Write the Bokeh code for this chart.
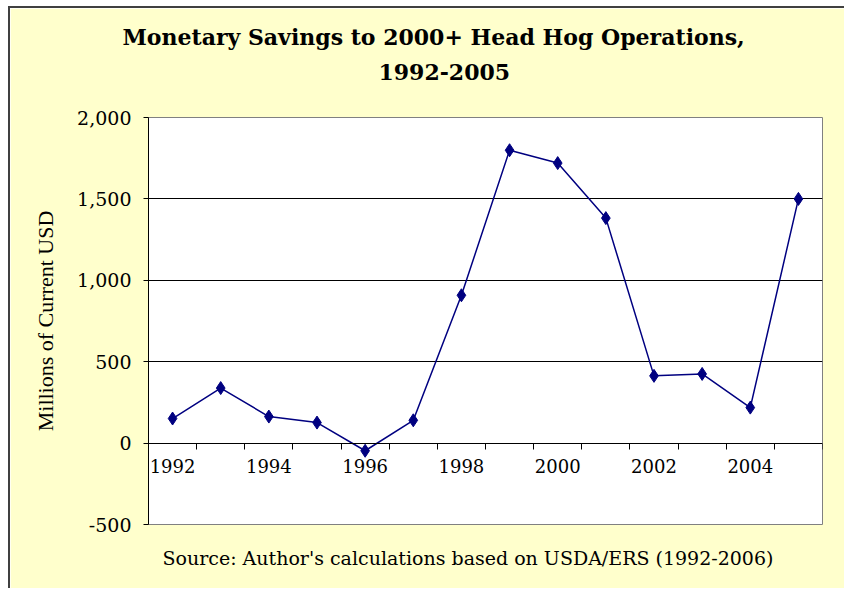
import math
from bokeh.plotting import figure
from bokeh.models import (Range1d, LinearAxis, FixedTicker, NumeralTickFormatter, Title)
from bokeh.embed import file_html
from bokeh.resources import INLINE

# ---- data ----
years = [1992, 1993, 1994, 1995, 1996, 1997, 1998, 1999, 2000, 2001, 2002, 2003, 2004, 2005]
savings = [151, 338, 163, 126, -47, 140, 908, 1799, 1720, 1382, 413, 425, 218, 1500]
year_tick_labels = [1992, 1994, 1996, 1998, 2000, 2002, 2004]
y_ticks = [-500, 0, 500, 1000, 1500, 2000]
grid_values = [500, 1000, 1500]
title_line1 = "Monetary Savings to 2000+ Head Hog Operations,"
title_line2 = "1992-2005"
y_title = "Millions of Current USD"
source_text = "Source: Author's calculations based on USDA/ERS (1992-2006)"

BG = "#FFFFCC"
NAVY = "#000080"
SERIF = "DejaVu Serif"

W, H = 836, 582
FL, FR, FT, FB = 138, 24, 109, 66  # borders around the frame

p = figure(width=W, height=H, output_backend="svg", toolbar_location=None,
           x_range=Range1d(years[0] - 0.5, years[-1] + 0.5),
           y_range=Range1d(min(y_ticks), max(y_ticks)),
           x_axis_location=None, y_axis_location=None,
           min_border_left=FL, min_border_right=FR, min_border_top=FT, min_border_bottom=FB)
p.title = None
p.background_fill_color = "white"
p.border_fill_color = BG
p.outline_line_color = "#808080"
p.outline_line_width = 1
p.styles = {"margin-left": "8px", "margin-top": "6px",
            "border-left": "2px solid #404040", "border-top": "2px solid #404040"}

# grid
p.xgrid.visible = False
p.ygrid.ticker = FixedTicker(ticks=grid_values)
p.ygrid.grid_line_color = "black"
p.ygrid.grid_line_width = 1

# y axis
yax = LinearAxis(ticker=FixedTicker(ticks=y_ticks), formatter=NumeralTickFormatter(format="0,0"))
yax.axis_line_color = "black"
yax.major_tick_line_color = "black"
yax.major_tick_out = 5
yax.major_tick_in = 0
yax.minor_tick_line_color = None
yax.major_label_standoff = 12
yax.major_label_text_font = SERIF
yax.major_label_text_font_size = "19px"
yax.major_label_text_color = "black"
yax.axis_label = y_title
yax.axis_label_text_font = "Liberation Serif"
yax.axis_label_text_font_size = "22px"
yax.axis_label_text_font_style = "normal"
yax.axis_label_text_color = "black"
yax.axis_label_standoff = 16
p.add_layout(yax, "left")

# x axis at zero: tick marks between categories
bounds = [y - 0.5 for y in years] + [years[-1] + 0.5]
xax_ticks = LinearAxis(ticker=FixedTicker(ticks=bounds), fixed_location=0)
xax_ticks.axis_line_color = "black"
xax_ticks.major_tick_line_color = "black"
xax_ticks.major_tick_out = 6
xax_ticks.major_tick_in = 0
xax_ticks.minor_tick_line_color = None
xax_ticks.major_label_text_font_size = "0px"
xax_ticks.major_label_text_color = None
p.add_layout(xax_ticks, "below")

# x axis labels centred on categories
xax_lab = LinearAxis(ticker=FixedTicker(ticks=year_tick_labels), fixed_location=0)
xax_lab.axis_line_color = None
xax_lab.major_tick_line_color = None
xax_lab.minor_tick_line_color = None
xax_lab.major_label_standoff = 10
xax_lab.major_label_text_font = SERIF
xax_lab.major_label_text_font_size = "18px"
xax_lab.major_label_text_color = "black"
p.add_layout(xax_lab, "below")

# series
p.line(years, savings, line_color=NAVY, line_width=1.5)
p.scatter(years, savings, marker="diamond", size=13, fill_color=NAVY, line_color=NAVY)

# titles (stacked outward from the frame); padding = (left, right, top, bottom)
p.add_layout(Title(text=title_line2, align="left", offset=230, standoff=0, padding=(0, 0, 0, 38),
                   text_font=SERIF, text_font_style="bold", text_font_size="22px",
                   text_color="black"), "above")
p.add_layout(Title(text=title_line1, align="left", offset=-26, standoff=0, padding=(0, 0, 0, 12),
                   text_font=SERIF, text_font_style="bold", text_font_size="22px",
                   text_color="black"), "above")
p.add_layout(Title(text=source_text, align="left", offset=14, standoff=8, padding=(0, 0, 16, 0),
                   text_font=SERIF, text_font_style="normal", text_font_size="19px",
                   text_color="black"), "below")

open("out.html", "w").write(file_html(p, INLINE))
